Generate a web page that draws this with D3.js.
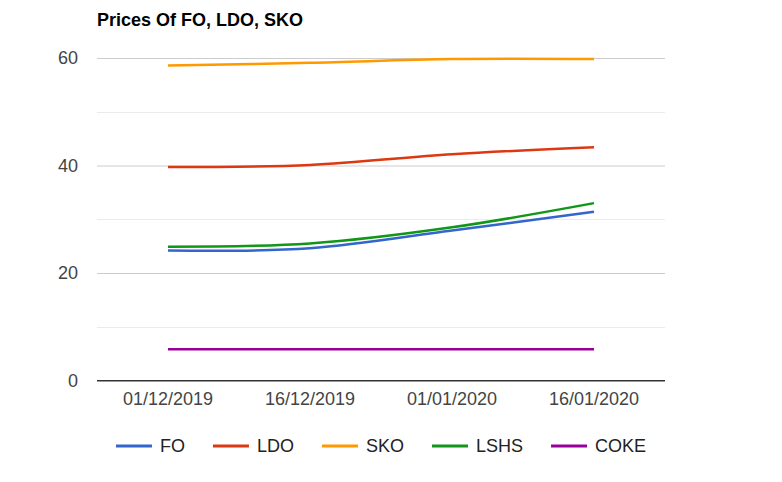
<!DOCTYPE html>
<html>
<head>
<meta charset="utf-8">
<script src="https://cdn.jsdelivr.net/npm/d3@7"></script>
<style>
  html, body { margin: 0; padding: 0; background: #fff; }
  svg { display: block; font-family: "Liberation Sans", Arial, sans-serif; }
</style>
</head>
<body>
<svg id="chart" width="782" height="482"></svg>
<script>
const title = "Prices Of FO, LDO, SKO";
const categories = ["01/12/2019", "16/12/2019", "01/01/2020", "16/01/2020"];
const seriesNames = ["FO", "LDO", "SKO", "LSHS", "COKE"];
const seriesColors = ["#3366cc", "#dc3912", "#ff9900", "#109618", "#990099"];
const FO   = [24.2, 24.6, 27.9, 31.4];
const LDO  = [39.7, 40.1, 42.1, 43.4];
const SKO  = [58.6, 59.1, 59.8, 59.8];
const LSHS = [24.9, 25.5, 28.5, 33.0];
const COKE = [5.8, 5.8, 5.8, 5.8];
const yTicks = [0, 20, 40, 60];
const yMinorTicks = [10, 30, 50];

const seriesValues = [FO, LDO, SKO, LSHS, COKE];

const svg = d3.select("#chart");
const plotLeft = 97, plotRight = 665, plotTop = 58, plotBottom = 380.5;

const x = d3.scaleBand().domain(categories).range([plotLeft, plotRight]);
const y = d3.scaleLinear().domain([0, 60]).range([plotBottom, plotTop]);

// minor gridlines
svg.append("g").selectAll("line").data(yMinorTicks).join("line")
  .attr("x1", plotLeft).attr("x2", plotRight)
  .attr("y1", d => Math.round(y(d)) + 0.5).attr("y2", d => Math.round(y(d)) + 0.5)
  .attr("stroke", "#ebebeb").attr("stroke-width", 1);

// y axis via d3.axisLeft, styled as gridlines
const yAxis = d3.axisLeft(y).tickValues(yTicks).tickSize(-(plotRight - plotLeft)).tickPadding(19);
const gy = svg.append("g").attr("transform", `translate(${plotLeft},0)`).call(yAxis);
gy.select(".domain").remove();
gy.selectAll(".tick line").attr("stroke", d => d === 0 ? "#333" : "#cccccc").attr("stroke-width", 1);
gy.selectAll(".tick text").attr("fill", "#444").attr("font-size", 18)
  .attr("font-family", "'Liberation Sans', Arial, sans-serif");

// x axis labels
const xAxis = d3.axisBottom(x).tickSize(0).tickPadding(12);
const gx = svg.append("g").attr("transform", `translate(0,${plotBottom})`).call(xAxis);
gx.select(".domain").remove();
gx.selectAll(".tick text").attr("fill", "#444").attr("font-size", 18)
  .attr("font-family", "'Liberation Sans', Arial, sans-serif")
  .attr("dy", "0.71em");

// baseline on top
svg.append("line").attr("x1", plotLeft).attr("x2", plotRight)
  .attr("y1", y(0)).attr("y2", y(0)).attr("stroke", "#333").attr("stroke-width", 1.2);

// lines
const line = d3.line()
  .x((d, i) => x(categories[i]) + x.bandwidth() / 2)
  .y(d => y(d))
  .curve(d3.curveCatmullRom.alpha(0.5));

svg.append("g").selectAll("path").data(seriesValues).join("path")
  .attr("d", d => line(d))
  .attr("fill", "none")
  .attr("stroke", (d, i) => seriesColors[i])
  .attr("stroke-width", 2.5);

// title
svg.append("text").attr("x", 97).attr("y", 26)
  .attr("font-size", 18).attr("font-weight", "bold").attr("fill", "#000")
  .text(title);

// legend
const legend = svg.append("g");
const items = legend.selectAll("g").data(seriesNames).join("g");
items.append("line").attr("x1", 0).attr("x2", 36).attr("y1", 446).attr("y2", 446)
  .attr("stroke", (d, i) => seriesColors[i]).attr("stroke-width", 3);
items.append("text").attr("x", 44).attr("y", 452).attr("font-size", 18).attr("fill", "#222").text(d => d);
let widths = [];
items.each(function() { widths.push(44 + d3.select(this).select("text").node().getComputedTextLength()); });
const gap = 28;
const total = d3.sum(widths) + gap * (widths.length - 1);
let cx = (plotLeft + plotRight) / 2 - total / 2;
items.each(function(d, i) {
  d3.select(this).attr("transform", `translate(${cx},0)`);
  cx += widths[i] + gap;
});
</script>
</body>
</html>
